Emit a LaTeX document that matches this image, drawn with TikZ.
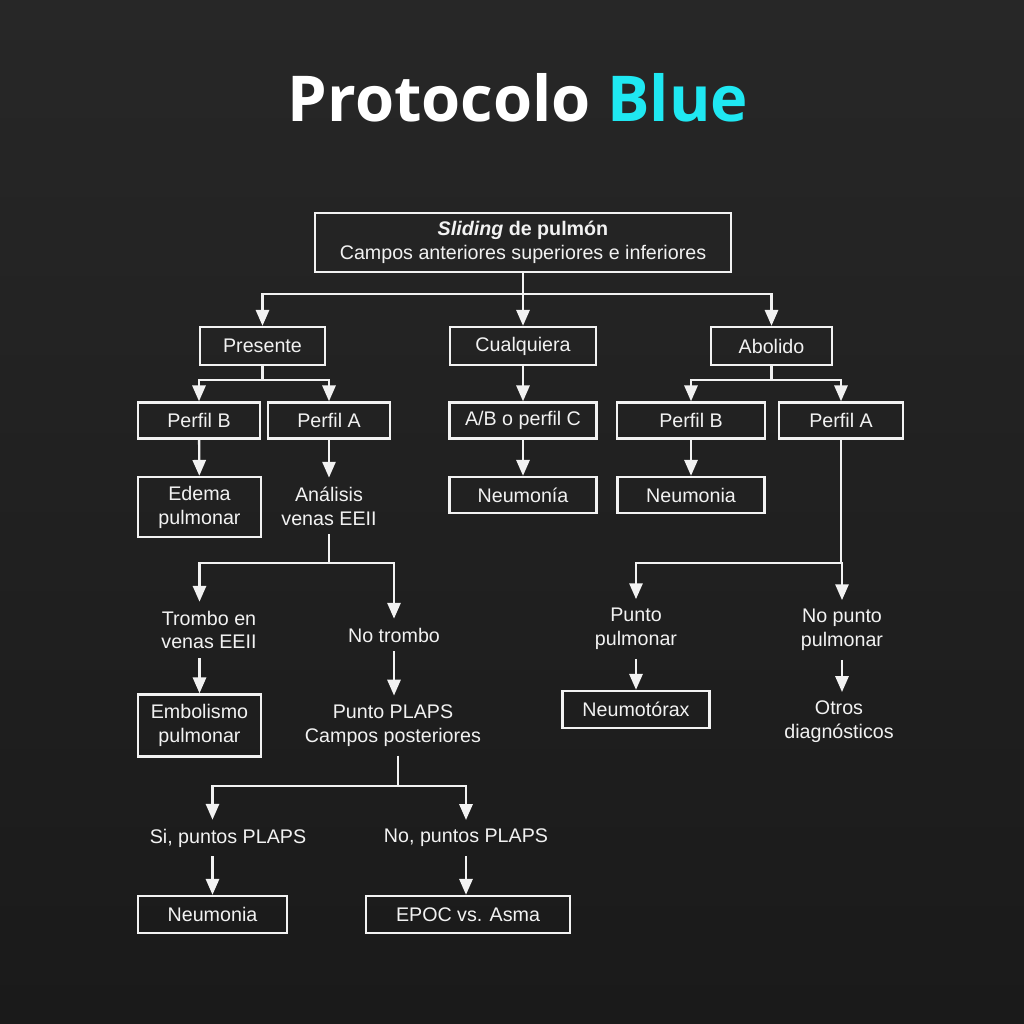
\documentclass[tikz,border=0pt]{standalone}
\usepackage{fontspec}
\setmainfont{Liberation Sans}
\newfontfamily\titleFont{Open Sans}
\usetikzlibrary{arrows.meta}

\begin{document}
\begin{tikzpicture}[x=0.02cm, y=-0.02cm,
    flowBox/.style={draw=lineColour, line width=1.4pt, inner sep=0pt, minimum height=0.72cm,
        align=center, text=lineColour, font=\fontsize{11.2}{13.6}\selectfont},
    plainText/.style={inner sep=5pt, align=center, text=lineColour, font=\fontsize{11.2}{13.6}\selectfont},
    flowLine/.style={draw=lineColour, line width=1.3pt},
    flowArrow/.style={flowLine, -{Triangle[width=7.5pt,length=9pt]}}]
    \definecolor{bgTop}{HTML}{272727}
    \definecolor{bgBottom}{HTML}{1A1A1A}
    \definecolor{lineColour}{HTML}{F2F2F2}
    \definecolor{blueAccent}{HTML}{1FE8F2}

    % Background
    \shade[top color=bgTop, bottom color=bgBottom] (0,0) rectangle (1024,1024);
    \useasboundingbox (0,0) rectangle (1024,1024);

    % Title
    \node[font=\titleFont\bfseries\fontsize{36}{40}\selectfont] (title) at (518,98)
        {\textcolor{white}{Protocolo} \textcolor{blueAccent}{Blue}};

    % Row 1
    \node[flowBox, minimum width=8.32cm, minimum height=1.18cm] (sliding) at (523,242.5)
        {\textbf{\textit{Sliding} de pulmón}\\Campos anteriores superiores e inferiores};

    % Row 2
    \node[flowBox, minimum width=2.5cm, minimum height=0.76cm] (presente) at (262.5,346) {Presente};
    \node[flowBox, minimum width=2.92cm, minimum height=0.76cm] (cualquiera) at (523,346) {Cualquiera};
    \node[flowBox, minimum width=2.42cm, minimum height=0.76cm] (abolido) at (771.5,346) {Abolido};

    % Row 3
    \node[flowBox, minimum width=2.44cm] (perfilBp) at (199,420.5) {Perfil B};
    \node[flowBox, minimum width=2.44cm] (perfilAp) at (329,420.5) {Perfil A};
    \node[flowBox, minimum width=2.94cm] (perfilC) at (523,420.5) {A/B o perfil C};
    \node[flowBox, minimum width=2.96cm] (perfilBa) at (691,420.5) {Perfil B};
    \node[flowBox, minimum width=2.48cm] (perfilAa) at (841,420.5) {Perfil A};

    % Row 4
    \node[flowBox, minimum width=2.46cm, minimum height=1.2cm] (edema) at (199.5,507) {Edema\\pulmonar};
    \node[plainText] (analisis) at (329,506) {Análisis\\venas EEII};
    \node[flowBox, minimum width=2.94cm] (neumoniaC) at (523,495) {Neumonía};
    \node[flowBox, minimum width=2.94cm] (neumoniaB) at (691,495) {Neumonia};

    % Row 5
    \node[plainText] (trombo) at (209,630) {Trombo en\\venas EEII};
    \node[plainText] (noTrombo) at (394,635) {No trombo};
    \node[plainText] (punto) at (636,629) {Punto\\pulmonar};
    \node[plainText] (noPunto) at (842,630) {No punto\\pulmonar};

    % Row 6
    \node[flowBox, minimum width=2.46cm, minimum height=1.24cm] (embolismo) at (199.5,725.5) {Embolismo\\pulmonar};
    \node[plainText] (plaps) at (393,725.5) {Punto PLAPS\\Campos posteriores};
    \node[flowBox, minimum width=2.94cm, minimum height=0.74cm] (neumotorax) at (636,709.5) {Neumotórax};
    \node[plainText] (otros) at (839,722) {Otros\\diagnósticos};

    % Row 7
    \node[plainText] (siPlaps) at (228,838) {Si, puntos PLAPS};
    \node[plainText] (noPlaps) at (466,838) {No, puntos PLAPS};
    \node[flowBox, minimum width=2.98cm, minimum height=0.74cm] (neumoniaS) at (212.5,914.5) {Neumonia};
    \node[flowBox, minimum width=4.08cm, minimum height=0.74cm] (epoc) at (468,914.5) {EPOC vs. Asma};

    % Split points
    \coordinate (splitTop) at (523,294);
    \coordinate (splitPres) at (262.5,380);
    \coordinate (splitAbol) at (771.5,380);
    \coordinate (splitAna) at (329,563);
    \coordinate (splitPerfil) at (841,563);
    \coordinate (splitPlaps) at (398,786);

    % Connectors from the top box
    \draw[flowLine] (sliding.south) -- (splitTop);
    \draw[flowArrow] (splitTop) -| (presente.north);
    \draw[flowArrow] (splitTop) -- (cualquiera.north);
    \draw[flowArrow] (splitTop) -| (abolido.north);

    % Presente branch
    \draw[flowLine] (presente.south) -- (splitPres);
    \draw[flowArrow] (splitPres) -| (perfilBp.north);
    \draw[flowArrow] (splitPres) -| (perfilAp.north);
    \draw[flowArrow] (perfilBp) -- (edema);
    \draw[flowArrow] (perfilAp) -- (analisis);
    \draw[flowLine] (analisis.south) -- (splitAna);
    \draw[flowArrow] (splitAna) -| (embolismo.north |- trombo.north);
    \draw[flowArrow] (splitAna) -| (noTrombo.north);
    \draw[flowArrow] (trombo.south -| embolismo) -- (embolismo.north);
    \draw[flowArrow] (noTrombo.south) -- (noTrombo.south |- plaps.north);
    \draw[flowLine] (plaps.south -| splitPlaps) -- (splitPlaps);
    \draw[flowArrow] (splitPlaps) -| (neumoniaS.north |- siPlaps.north);
    \draw[flowArrow] (splitPlaps) -| (noPlaps.north);
    \draw[flowArrow] (siPlaps.south -| neumoniaS) -- (neumoniaS.north);
    \draw[flowArrow] (noPlaps.south) -- (noPlaps.south |- epoc.north);

    % Cualquiera branch
    \draw[flowArrow] (cualquiera) -- (perfilC);
    \draw[flowArrow] (perfilC) -- (neumoniaC);

    % Abolido branch
    \draw[flowLine] (abolido.south) -- (splitAbol);
    \draw[flowArrow] (splitAbol) -| (perfilBa.north);
    \draw[flowArrow] (splitAbol) -| (perfilAa.north);
    \draw[flowArrow] (perfilBa) -- (neumoniaB);
    \draw[flowLine] (perfilAa.south) -- (splitPerfil);
    \draw[flowArrow] (splitPerfil) -| (punto.north);
    \draw[flowArrow] (splitPerfil) -| (noPunto.north);
    \draw[flowArrow] (punto.south) -- (punto.south |- neumotorax.north);
    \draw[flowArrow] (noPunto.south) -- (noPunto.south |- otros.north);

\end{tikzpicture}
\end{document}
